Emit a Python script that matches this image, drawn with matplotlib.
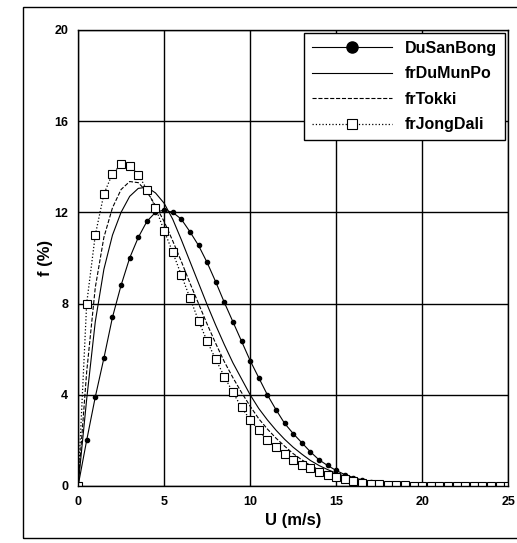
import numpy as np
import matplotlib.pyplot as plt
from matplotlib.patches import Rectangle

plt.rcParams['font.family'] = ['Liberation Sans', 'DejaVu Sans']
plt.rcParams['font.weight'] = 'bold'

# wind speed, m/s (every 0.5 m/s up to 25)
u = np.arange(0, 25.01, 0.5)

du_san_bong = [0, 2.0, 3.9, 5.6, 7.4, 8.8, 10.0, 10.9, 11.6, 12.0,
               12.1, 12.0, 11.7, 11.15, 10.55, 9.8, 8.95, 8.05, 7.2, 6.35,
               5.5, 4.75, 4.0, 3.35, 2.75, 2.3, 1.9, 1.5, 1.15, 0.9,
               0.68, 0.5, 0.37, 0.27, 0.19, 0.13, 0.09, 0.06, 0.04, 0.03,
               0.02, 0.02, 0.01, 0.01, 0.01, 0.0, 0.0, 0.0, 0.0, 0.0, 0.0]
fr_du_mun_po = [0, 3.8, 7.2, 9.5, 11.0, 12.0, 12.7, 13.05, 13.1, 12.85,
                12.4, 11.7, 10.8, 9.85, 8.9, 7.95, 7.05, 6.2, 5.4, 4.7,
                4.0, 3.4, 2.9, 2.45, 2.05, 1.7, 1.4, 1.12, 0.9, 0.72,
                0.56, 0.43, 0.33, 0.25, 0.18, 0.13, 0.1, 0.07, 0.05, 0.03,
                0.02, 0.01, 0.01, 0.0, 0.0, 0.0, 0.0, 0.0, 0.0, 0.0, 0.0]
fr_tokki = [0, 5.0, 8.7, 10.9, 12.2, 13.0, 13.35, 13.3, 12.9, 12.3,
            11.6, 10.75, 9.85, 8.9, 8.0, 7.1, 6.25, 5.45, 4.75, 4.1,
            3.5, 2.95, 2.5, 2.1, 1.75, 1.42, 1.15, 0.9, 0.72, 0.56,
            0.43, 0.33, 0.25, 0.19, 0.14, 0.1, 0.07, 0.05, 0.03, 0.02,
            0.02, 0.01, 0.01, 0.0, 0.0, 0.0, 0.0, 0.0, 0.0, 0.0, 0.0]
fr_jong_dali = [0, 8.0, 11.0, 12.8, 13.7, 14.1, 14.05, 13.65, 13.0, 12.2,
                11.2, 10.25, 9.25, 8.25, 7.25, 6.35, 5.55, 4.8, 4.1, 3.45,
                2.9, 2.45, 2.0, 1.7, 1.4, 1.15, 0.92, 0.78, 0.63, 0.48,
                0.38, 0.29, 0.2, 0.14, 0.1, 0.07, 0.05, 0.04, 0.03, 0.02,
                0.02, 0.01, 0.01, 0.01, 0.0, 0.0, 0.0, 0.0, 0.0, 0.0, 0.0]

fig = plt.figure(figsize=(5.17, 5.43), dpi=100)
ax = fig.add_axes([0.151, 0.105, 0.832, 0.840])

# outer frame of the scanned figure
fig.patches.append(Rectangle((0.0445, 0.009), 1.2, 0.978, transform=fig.transFigure,
                             fill=False, edgecolor='black', linewidth=1.0))

ax.plot(u, du_san_bong, '-', color='black', linewidth=0.8, marker='o',
        markersize=3, label='DuSanBong')
ax.plot(u, fr_du_mun_po, '-', color='black', linewidth=0.8, label='frDuMunPo')
ax.plot(u, fr_tokki, '--', color='black', linewidth=0.8, label='frTokki')
ax.plot(u, fr_jong_dali, ':', color='black', linewidth=0.9, marker='s',
        markersize=5.5, markerfacecolor='white', markeredgewidth=0.8,
        label='frJongDali')

ax.set_xlim(0, 25)
ax.set_ylim(0, 20)
ax.set_xticks([0, 5, 10, 15, 20, 25])
ax.set_yticks([0, 4, 8, 12, 16, 20])
ax.tick_params(length=0, pad=7, labelsize=9)
ax.grid(True, color='black', linewidth=1.0)
for s in ax.spines.values():
    s.set_linewidth(1.0)

ax.set_xlabel('U (m/s)', fontsize=12, fontweight='bold', labelpad=4)
ax.set_ylabel('f (%)', fontsize=12, fontweight='bold', labelpad=1)

leg = ax.legend(loc='upper right', fontsize=11.5, handlelength=5,
                fancybox=False, framealpha=1, edgecolor='black',
                borderaxespad=0.2, labelspacing=0.65, borderpad=0.5)
leg.get_frame().set_linewidth(1.0)
# bigger dot in the legend, as in the original
leg.legend_handles[0].set_markersize(8)
leg.legend_handles[3].set_markersize(7)

fig.savefig('out.png', dpi=100)
